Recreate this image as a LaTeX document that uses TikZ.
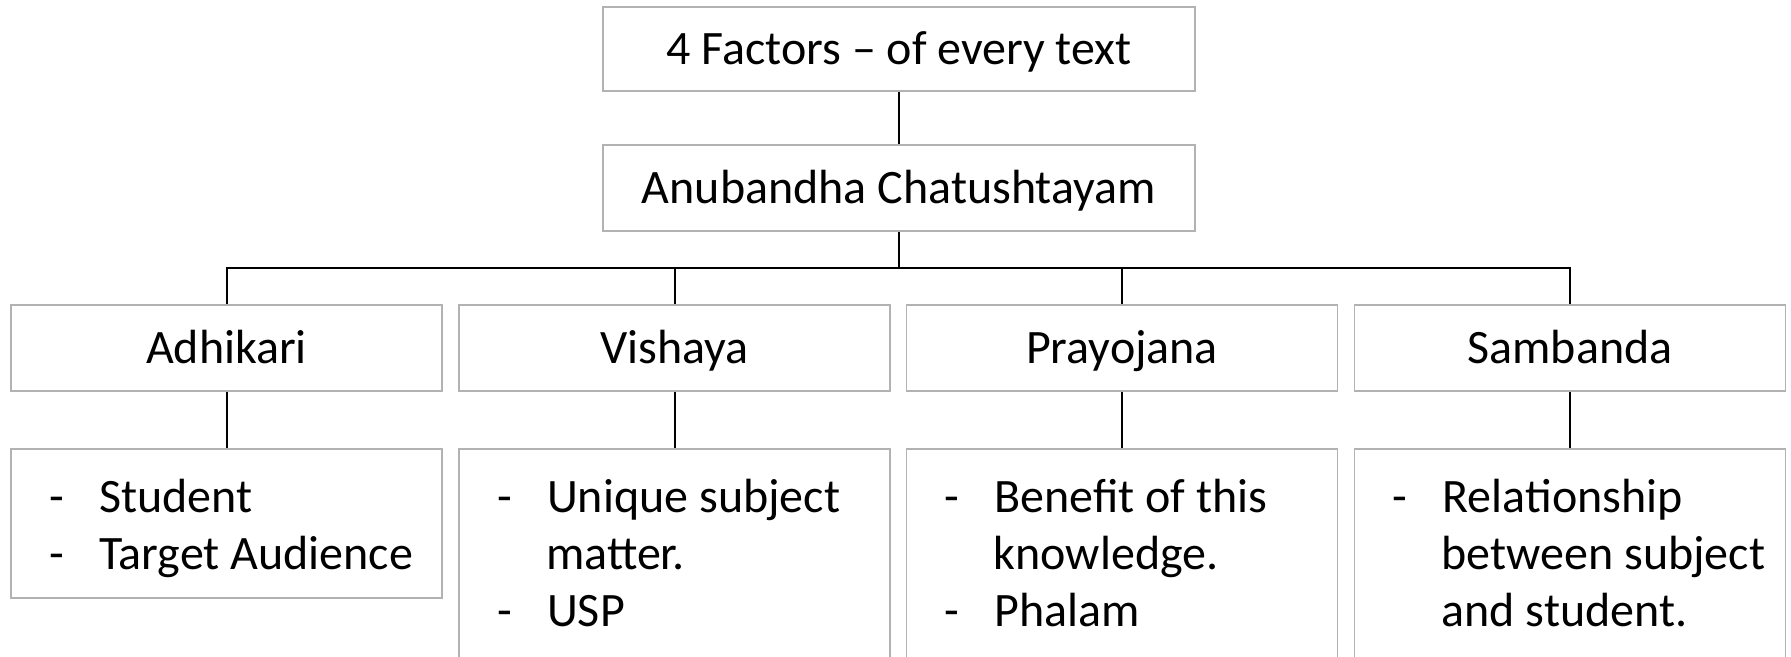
\documentclass[tikz,border=0pt]{standalone}
\usepackage{fontspec}
\setmainfont{Carlito}
\definecolor{boxgray}{RGB}{178,178,178}
\newcommand\dsh{\makebox[50pt][l]{-}}
\newcommand\cnt{\hspace*{49pt}}
\begin{document}
\begin{tikzpicture}[x=1pt,y=-1pt,
  box/.style={draw=boxgray, line width=1.5pt, minimum width=431pt, minimum height=86pt,
    inner sep=0pt, font=\fontsize{48}{57}\selectfont, text height=35pt, text depth=5pt},
  listbox/.style={draw=boxgray, line width=1.5pt, minimum width=431pt, inner sep=0pt},
  listtext/.style={anchor=north west, inner sep=0pt, text width=390pt, align=flush left,
    font=\fontsize{48}{57}\selectfont},
  link/.style={line width=2pt, draw=black}]
\useasboundingbox (0,0) rectangle (1791,656);
\clip (0,0) rectangle (1791,656);
\fill[white] (0,0) rectangle (1791,656);
% top levels
\node[box, minimum width=592pt, minimum height=84pt] (top) at (899,49) {4 Factors – of every text};
\node[box, minimum width=592pt] (anu) at (899,188) {Anubandha Chatushtayam};
% level 3
\node[box] (adh) at (226.5,348) {Adhikari};
\node[box] (vis) at (674.5,348) {Vishaya};
\node[box] (pra) at (1122,348) {Prayojana};
\node[box] (sam) at (1570,348) {Sambanda};
% level 4 boxes
\node[listbox, minimum height=149pt] (adhd) at (226.5,523.5) {};
\node[listbox, minimum height=271pt] (visd) at (674.5,584.5) {};
\node[listbox, minimum height=271pt] (prad) at (1122,584.5) {};
\node[listbox, minimum height=271pt] (samd) at (1570,584.5) {};
% level 4 texts
\node[listtext] (adht) at (49,472) {\rule{0pt}{40pt}\dsh Student\\\dsh Target Audience};
\node[listtext] (vist) at (497,472) {\rule{0pt}{40pt}\dsh Unique subject\\\cnt matter.\\\dsh USP};
\node[listtext] (prat) at (944.5,472) {\rule{0pt}{40pt}\dsh Benefit of this\\\cnt knowledge.\\\dsh Phalam};
\node[listtext] (samt) at (1392.5,472) {\rule{0pt}{40pt}\dsh Relationship\\\cnt between subject\\\cnt and student.};
% connectors
\coordinate (hb) at (899,268);
\draw[link] (top.south) -- (anu.north);
\draw[link] (anu.south) -- (hb);
\draw[link] (adh.north) -- (adh.north |- hb) -- (sam.north |- hb) -- (sam.north);
\draw[link] (vis.north) -- (vis.north |- hb);
\draw[link] (pra.north) -- (pra.north |- hb);
\draw[link] (adh.south) -- (adhd.north);
\draw[link] (vis.south) -- (visd.north);
\draw[link] (pra.south) -- (prad.north);
\draw[link] (sam.south) -- (samd.north);
\end{tikzpicture}
\end{document}
